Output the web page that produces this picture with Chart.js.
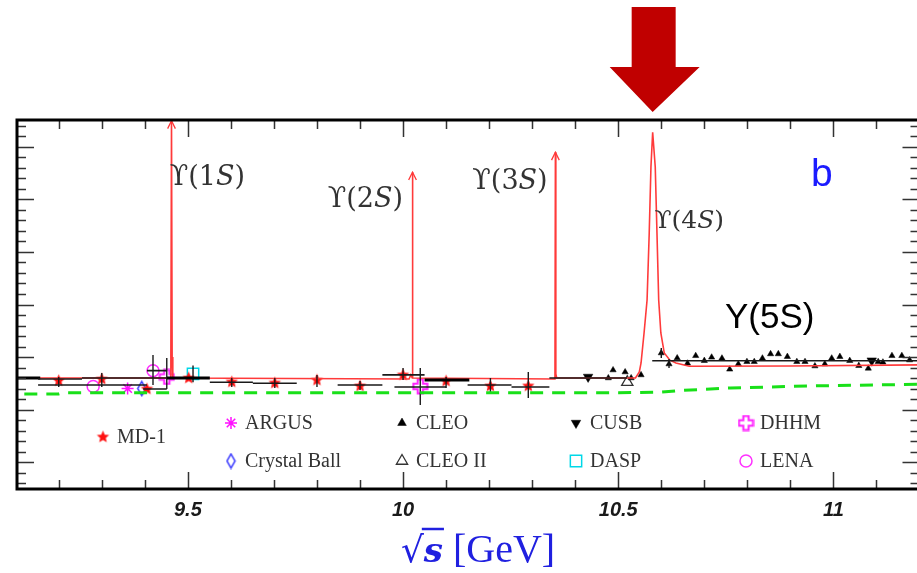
<!DOCTYPE html>
<html>
<head>
<meta charset="utf-8">
<script src="https://cdn.jsdelivr.net/npm/chart.js@4.4.1/dist/chart.umd.min.js"></script>
<style>
  html, body { margin: 0; padding: 0; background: #fff; overflow: hidden; width: 917px; height: 573px; }
  canvas { display: block; }
</style>
</head>
<body>
<canvas id="chart" width="929" height="573" style="width:929px;height:573px"></canvas>
<script>
// Axis ranges and tick labels
const xMin = 9.103, xMax = 11.2;
const yMin = 2.743, yMax = 6.257;
const xTickLabels = [9.5, 10, 10.5, 11];

// pQCD + resonances curve (red)
const curveX = [9.103, 9.459, 9.4605, 9.462, 9.4635, 9.465, 10.014, 10.018, 10.0215, 10.022, 10.0225, 10.352, 10.353, 10.354, 10.355, 10.357,
                10.54, 10.549, 10.553, 10.560, 10.567, 10.572, 10.576, 10.580, 10.586, 10.590, 10.594, 10.599, 10.607, 10.62, 10.634, 10.665, 10.9, 11.2];
const curveY = [3.80, 3.80, 4.0, 6.25, 4.0, 3.80, 3.79, 3.83, 3.80, 5.76, 3.80, 3.79, 3.84, 5.95, 3.84, 3.80,
                3.80, 3.857, 3.943, 4.229, 4.543, 5.181, 5.81, 6.14, 5.81, 5.181, 4.543, 4.229, 4.038, 3.97, 3.943, 3.912, 3.915, 3.925];

// narrow resonances drawn as arrows
const resMass = [9.462, 10.022, 10.354];
const resTop = [6.25, 5.76, 5.95];

// naive parton model (green dashed)
const greenX = [9.12, 9.2, 9.21, 10.5, 10.6, 10.64, 10.76, 10.95, 11.2];
const greenY = [3.648, 3.648, 3.66, 3.66, 3.665, 3.68, 3.705, 3.725, 3.74];

// horizontal bin bars
const binLo = [9.152, 9.254, 9.152, 9.354, 9.396, 9.405, 9.551, 9.651, 9.848, 9.952, 9.98, 10.15, 10.252, 10.34, 10.579];
const binHi = [9.254, 9.354, 9.405, 9.451, 9.451, 9.451, 9.651, 9.753, 9.952, 10.05, 10.10, 10.252, 10.34, 10.521, 11.2];
const binR  = [3.79, 3.80, 3.733, 3.80, 3.695, 3.87, 3.76, 3.75, 3.733, 3.83, 3.714, 3.733, 3.714, 3.80, 3.965];
const thickLo = [9.103, 9.451, 10.05];
const thickHi = [9.157, 9.551, 10.154];
const thickR  = [3.80, 3.80, 3.78];

// vertical error bars
const errX  = [9.20, 9.30, 9.419, 9.451, 9.512, 9.602, 9.702, 9.80, 9.90, 10.0, 10.04, 10.10, 10.203, 10.291, 10.60, 10.618];
const errLo = [3.714, 3.714, 3.733, 3.695, 3.76, 3.714, 3.705, 3.714, 3.686, 3.781, 3.543, 3.705, 3.657, 3.61, 3.99, 3.895];
const errHi = [3.81, 3.848, 4.02, 3.99, 3.92, 3.80, 3.80, 3.829, 3.771, 3.895, 3.895, 3.81, 3.80, 3.857, 4.086, 3.98];

// experiments
const md1X = [9.20, 9.30, 9.405, 9.502, 9.602, 9.702, 9.80, 9.90, 10.0, 10.10, 10.203, 10.291];
const md1Y = [3.774, 3.79, 3.695, 3.80, 3.762, 3.752, 3.78, 3.724, 3.829, 3.771, 3.724, 3.724];
const argusX = [9.36];
const argusY = [3.70];
const cbX = [9.393];
const cbY = [3.70];
const cleoX = [10.477, 10.488, 10.516, 10.53, 10.553,
  10.600, 10.618, 10.637, 10.661, 10.680, 10.700, 10.717, 10.741, 10.759, 10.779, 10.799, 10.816, 10.835, 10.854, 10.872,
  10.893, 10.915, 10.934, 10.957, 10.980, 10.996, 11.015, 11.038, 11.059, 11.081, 11.104, 11.115, 11.136, 11.159, 11.177];
const cleoY = [3.80, 3.876, 3.857, 3.80, 3.829,
  4.038, 3.933, 3.990, 3.940, 4.012, 3.965, 3.997, 3.988, 3.883, 3.933, 3.955, 3.955, 3.988, 4.029, 4.029,
  4.003, 3.955, 3.955, 3.914, 3.933, 3.988, 4.003, 3.965, 3.917, 3.892, 3.955, 3.950, 4.012, 4.012, 3.971];
const cleo2X = [10.521];
const cleo2Y = [3.76];
const cusbX = [10.43, 11.089];
const cusbY = [3.81, 3.965];
const dhhmX = [9.451, 10.04];
const dhhmY = [3.81, 3.72];
const daspX = [9.512];
const daspY = [3.84];
const lenaX = [9.28, 9.419];
const lenaY = [3.72, 3.87];

const pts = (xs, ys) => xs.map((x, i) => ({ x: x, y: ys[i] }));

function segments(lo, hi, yLo, yHi) {
    const out = [];
    lo.forEach((a, i) => {
        out.push({ x: a, y: yLo[i] }, { x: hi[i], y: yHi[i] }, { x: hi[i], y: null });
    });
    return out;
}

// arrow tips on the narrow resonances
const tipData = [];
resMass.forEach((m, i) => {
    tipData.push({ x: m - 0.009, y: resTop[i] - 0.075 }, { x: m, y: resTop[i] }, { x: m + 0.009, y: resTop[i] - 0.075 }, { x: m, y: null });
});

// custom marker images
function makeStar(r, color) {
    const c = document.createElement('canvas');
    c.width = c.height = 2 * r + 2;
    const g = c.getContext('2d');
    g.fillStyle = color;
    g.beginPath();
    for (let k = 0; k < 10; k++) {
        const rr = k % 2 ? r * 0.45 : r;
        const a = -Math.PI / 2 + k * Math.PI / 5;
        g.lineTo(r + 1 + rr * Math.cos(a), r + 1 + rr * Math.sin(a));
    }
    g.closePath();
    g.fill();
    return c;
}
function makePlus(r, color) {
    const c = document.createElement('canvas');
    c.width = c.height = 2 * r + 3;
    const g = c.getContext('2d');
    const o = 1.5, w = r * 0.38;
    g.strokeStyle = color;
    g.lineWidth = 2;
    g.beginPath();
    const p = [[-w, -r], [w, -r], [w, -w], [r, -w], [r, w], [w, w], [w, r], [-w, r], [-w, w], [-r, w], [-r, -w], [-w, -w]];
    p.forEach(([a, b]) => g.lineTo(r + o + a, r + o + b));
    g.closePath();
    g.stroke();
    return c;
}
function makeDiamond(w, h, color) {
    const c = document.createElement('canvas');
    c.width = 2 * w + 3; c.height = 2 * h + 3;
    const g = c.getContext('2d');
    g.strokeStyle = color;
    g.lineWidth = 1.5;
    g.beginPath();
    g.moveTo(w + 1.5, 1.5); g.lineTo(2 * w + 1.5, h + 1.5); g.lineTo(w + 1.5, 2 * h + 1.5); g.lineTo(1.5, h + 1.5);
    g.closePath();
    g.stroke();
    return c;
}
const starImg = makeStar(6.5, '#ff1010');
const plusImg = makePlus(7, '#ff22ff');
const diamondImg = makeDiamond(4, 7, '#3030ff');

const series = [
    { label: 'MD-1', x: md1X, y: md1Y, style: { pointStyle: starImg } },
    { label: 'ARGUS', x: argusX, y: argusY, style: { pointStyle: 'star', radius: 6, borderColor: '#ff10ff', borderWidth: 1.5 } },
    { label: 'Crystal Ball', x: cbX, y: cbY, style: { pointStyle: diamondImg } },
    { label: 'CLEO', x: cleoX, y: cleoY, style: { pointStyle: 'triangle', radius: 3.6, backgroundColor: '#000', borderColor: '#000', borderWidth: 0.5 } },
    { label: 'CLEO II', x: cleo2X, y: cleo2Y, style: { pointStyle: 'triangle', radius: 6.5, backgroundColor: '#fff', borderColor: '#333', borderWidth: 1.3 } },
    { label: 'CUSB', x: cusbX, y: cusbY, style: { pointStyle: 'triangle', rotation: 180, radius: 5.5, backgroundColor: '#000', borderColor: '#000', borderWidth: 0.5 } },
    { label: 'DASP', x: daspX, y: daspY, style: { pointStyle: 'rect', radius: 8, backgroundColor: 'rgba(0,0,0,0)', borderColor: '#00d8e8', borderWidth: 1.5 } },
    { label: 'DHHM', x: dhhmX, y: dhhmY, style: { pointStyle: plusImg } },
    { label: 'LENA', x: lenaX, y: lenaY, style: { pointStyle: 'circle', radius: 6, backgroundColor: '#fff', borderColor: '#ff30ff', borderWidth: 1.5 } }
];

// legend layout inside the plot (pixel anchor of the marker, text to the right)
const legendPos = {
    'MD-1': [103, 437], 'ARGUS': [231, 423], 'Crystal Ball': [231, 461], 'CLEO': [402, 423], 'CLEO II': [402, 461],
    'CUSB': [576, 423], 'DASP': [576, 461], 'DHHM': [746, 423], 'LENA': [746, 461]
};

const datasets = [
    { data: pts(greenX, greenY), borderColor: '#19e019', borderWidth: 3, borderDash: [13, 9] },
    { data: segments(binLo, binHi, binR, binR), borderColor: '#1a1a1a', borderWidth: 1.6 },
    { data: segments(thickLo, thickHi, thickR, thickR), borderColor: '#000', borderWidth: 3 },
    { data: segments(errX, errX, errLo, errHi), borderColor: '#1a1a1a', borderWidth: 1.4 },
    { data: pts(curveX, curveY), borderColor: '#ff3a3a', borderWidth: 1.6 },
    { data: tipData, borderColor: '#ff3a3a', borderWidth: 1.3 }
].map(d => Object.assign({ showLine: true, pointRadius: 0, spanGaps: false, tension: 0 }, d));

series.forEach(s => {
    datasets.push({
        label: s.label,
        data: pts(s.x, s.y),
        showLine: false,
        pointStyle: s.style.pointStyle,
        pointRadius: s.style.radius || 6,
        pointRotation: s.style.rotation || 0,
        pointBackgroundColor: s.style.backgroundColor || 'rgba(0,0,0,0)',
        pointBorderColor: s.style.borderColor || 'rgba(0,0,0,0)',
        pointBorderWidth: s.style.borderWidth || 0
    });
});

function drawUpsilon(ctx, x, y, n, size) {
    ctx.textBaseline = 'middle';
    ctx.textAlign = 'left';
    ctx.font = size + 'px "DejaVu Serif"';
    const first = '\u03D2(' + n;
    ctx.fillText(first, x, y);
    let w = ctx.measureText(first).width;
    ctx.font = 'italic ' + size + 'px "DejaVu Serif"';
    ctx.fillText('S', x + w, y);
    w += ctx.measureText('S').width;
    ctx.font = size + 'px "DejaVu Serif"';
    ctx.fillText(')', x + w, y);
}

const decorations = {
    id: 'decorations',
    afterDraw(chart) {
        const ctx = chart.ctx;
        const a = chart.chartArea;
        const xs = chart.scales.x, ys = chart.scales.y;
        ctx.save();

        // ticks on all four sides, pointing inward
        ctx.strokeStyle = '#333';
        ctx.lineWidth = 1.5;
        ctx.beginPath();
        for (let i = 92; i <= 112; i++) {
            const px = Math.round(xs.getPixelForValue(i / 10)) + 0.5;
            const len = i % 5 === 0 ? 17 : 9;
            ctx.moveTo(px, a.bottom); ctx.lineTo(px, a.bottom - len);
            ctx.moveTo(px, a.top); ctx.lineTo(px, a.top + len);
        }
        for (let i = 28; i <= 62; i++) {
            const py = Math.round(ys.getPixelForValue(i / 10)) + 0.5;
            const len = i % 5 === 0 ? 17 : 9;
            ctx.moveTo(a.left, py); ctx.lineTo(a.left + len, py);
            ctx.moveTo(a.right, py); ctx.lineTo(a.right - len, py);
        }
        ctx.stroke();

        // frame
        ctx.strokeStyle = '#000';
        ctx.lineWidth = 3;
        ctx.strokeRect(a.left, a.top, a.right - a.left, a.bottom - a.top);

        // legend inside the plot
        series.forEach(s => {
            const [lx, ly] = legendPos[s.label];
            ctx.fillStyle = s.style.backgroundColor || 'rgba(0,0,0,0)';
            ctx.strokeStyle = s.style.borderColor || 'rgba(0,0,0,0)';
            ctx.lineWidth = s.style.borderWidth || 0;
            Chart.helpers.drawPoint(ctx, {
                pointStyle: s.style.pointStyle,
                radius: s.style.radius ? Math.max(s.style.radius, 5) : 6,
                rotation: s.style.rotation || 0,
                borderWidth: s.style.borderWidth || 0
            }, lx, ly);
            ctx.fillStyle = '#333';
            ctx.font = '20px "Liberation Serif"';
            ctx.textAlign = 'left';
            ctx.textBaseline = 'middle';
            ctx.fillText(s.label, lx + 14, ly + 1);
        });

        // resonance names
        ctx.fillStyle = '#333';
        drawUpsilon(ctx, xs.getPixelForValue(9.458), ys.getPixelForValue(5.705), '1', 27);
        drawUpsilon(ctx, xs.getPixelForValue(9.825), ys.getPixelForValue(5.495), '2', 27);
        drawUpsilon(ctx, xs.getPixelForValue(10.161), ys.getPixelForValue(5.667), '3', 27);
        drawUpsilon(ctx, xs.getPixelForValue(10.584), ys.getPixelForValue(5.286), '4', 25);

        ctx.fillStyle = '#000';
        ctx.font = '35px "Liberation Sans"';
        ctx.fillText('Y(5S)', xs.getPixelForValue(10.748), ys.getPixelForValue(4.371));

        ctx.fillStyle = '#1c1cff';
        ctx.font = '39px "Liberation Sans"';
        ctx.fillText('b', xs.getPixelForValue(10.948), ys.getPixelForValue(5.733));

        // big arrow above the plot pointing at the 4S peak
        const tx = xs.getPixelForValue(10.580);
        ctx.fillStyle = '#c00000';
        ctx.beginPath();
        ctx.moveTo(tx - 21, 7); ctx.lineTo(tx + 23, 7); ctx.lineTo(tx + 23, 67); ctx.lineTo(tx + 47, 67);
        ctx.lineTo(tx, 112); ctx.lineTo(tx - 43, 67); ctx.lineTo(tx - 21, 67);
        ctx.closePath();
        ctx.fill();

        // x axis title
        const cx = 478, cy = 549;
        ctx.fillStyle = '#2020e0';
        ctx.strokeStyle = '#2020e0';
        ctx.textBaseline = 'alphabetic';
        ctx.font = '36px "DejaVu Serif"';
        const wr = ctx.measureText('\u221A').width;
        ctx.font = 'italic bold 34px "DejaVu Serif"';
        const ws = ctx.measureText('s').width;
        ctx.font = '40px "Liberation Serif"';
        const wg = ctx.measureText(' [GeV]').width;
        let x0 = cx - (wr + ws + wg) / 2;
        const base = cy + 13;
        ctx.font = '36px "DejaVu Serif"';
        ctx.fillText('\u221A', x0, base);
        ctx.lineWidth = 2.5;
        ctx.beginPath();
        ctx.moveTo(x0 + wr - 2, base - 33); ctx.lineTo(x0 + wr + ws + 1, base - 33);
        ctx.stroke();
        ctx.font = 'italic bold 34px "DejaVu Serif"';
        ctx.fillText('s', x0 + wr, base);
        ctx.font = '40px "Liberation Serif"';
        ctx.fillText(' [GeV]', x0 + wr + ws, base);
        ctx.restore();
    }
};

new Chart(document.getElementById('chart'), {
    type: 'scatter',
    data: { datasets: datasets },
    options: {
        responsive: false,
        animation: false,
        devicePixelRatio: 1,
        layout: { padding: { left: 17, right: 0, top: 120, bottom: 0 } },
        plugins: { legend: { display: false }, tooltip: { enabled: false } },
        scales: {
            x: {
                type: 'linear', min: xMin, max: xMax,
                grid: { display: false, drawTicks: false },
                border: { display: false },
                afterBuildTicks: s => { s.ticks = xTickLabels.map(v => ({ value: v })); },
                afterFit: s => { s.height = 84; s.paddingLeft = 0; s.paddingRight = 0; },
                ticks: {
                    padding: 9, color: '#1a1a1a', autoSkip: false, maxRotation: 0,
                    font: { family: 'Liberation Sans', size: 20, style: 'italic', weight: 'bold' },
                    callback: v => String(v)
                }
            },
            y: { type: 'linear', min: yMin, max: yMax, display: false }
        }
    },
    plugins: [decorations]
});
</script>
</body>
</html>
